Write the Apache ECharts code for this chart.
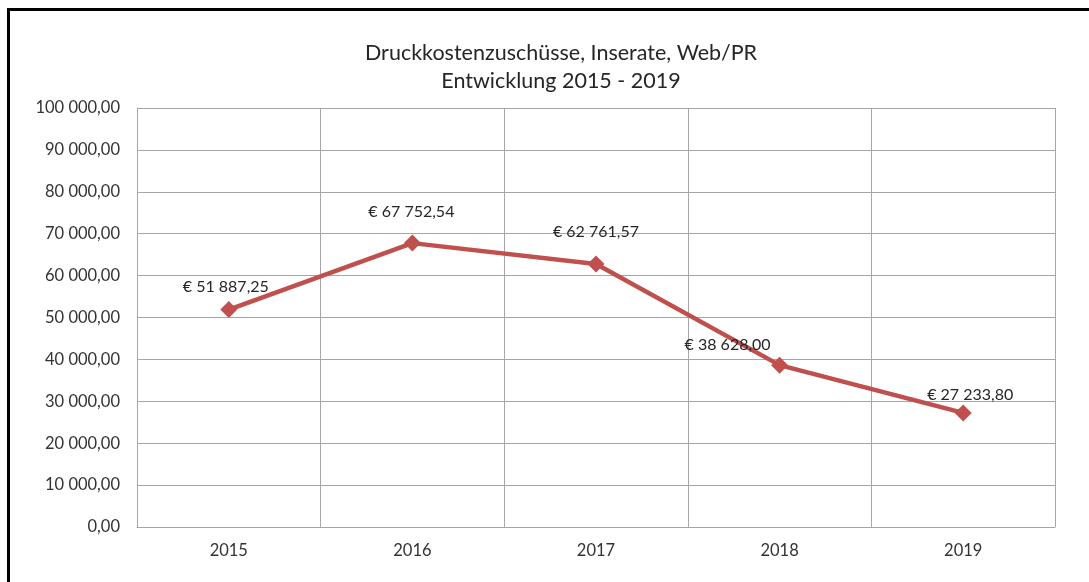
<!DOCTYPE html>
<html>
<head>
<meta charset="utf-8">
<script src="https://cdn.jsdelivr.net/npm/echarts@6/dist/echarts.min.js"></script>
<style>
  html, body { margin: 0; padding: 0; background: #fff; overflow: hidden; }
  #frame { position: absolute; left: 7px; top: 8px; width: 1300px; height: 800px; border: 3px solid #000; }
  #main { position: absolute; left: 0; top: 0; width: 1089px; height: 582px; }
</style>
</head>
<body>
<div id="frame"></div>
<div id="main"></div>
<script>
const years = ['2015', '2016', '2017', '2018', '2019']
const kosten = [51887.25, 67752.54, 62761.57, 38628.00, 27233.80]
// label nudges so they sit where the original put them
const labelOffsets = [[-3, -1], [-1, -10], [0, -11], [-52, 1], [7, 3]]

function fmt(v) {
    let parts = Number(v).toFixed(2).split('.')
    let ganz = parts[0].replace(/\B(?=(\d{3})+(?!\d))/g, ' ')
    return ganz + ',' + parts[1]
}

window.addEventListener('load', function() {
    var myChart = echarts.init(document.getElementById('main'))

    let dataChart = kosten.map((value, index) => {
        return {
            value: value,
            label: { offset: labelOffsets[index] }
        }
    })

    option = {
        animation: false,
        textStyle: { fontFamily: 'Lato' },
        title: {
            text: 'Druckkostenzuschüsse, Inserate, Web/PR\nEntwicklung 2015 - 2019',
            left: 556,
            top: 34,
            textAlign: 'center',
            textStyle: {
                fontFamily: 'Lato',
                fontSize: 21.5,
                fontWeight: 'normal',
                lineHeight: 28,
                color: '#262626'
            }
        },
        grid: { left: 137, top: 108, right: 34, bottom: 55 },
        xAxis: {
            type: 'category',
            data: years,
            boundaryGap: true,
            axisLine: { lineStyle: { color: '#a6a6a6', width: 1 } },
            axisTick: { show: false },
            axisLabel: { color: '#333', fontSize: 16.5, margin: 15, fontFamily: 'Lato' },
            splitLine: { show: true, lineStyle: { color: '#a6a6a6', width: 1 } }
        },
        yAxis: {
            type: 'value',
            min: 0,
            max: 100000,
            interval: 10000,
            axisLine: { show: true, lineStyle: { color: '#a6a6a6', width: 1 } },
            axisTick: { show: false },
            axisLabel: {
                color: '#333',
                fontSize: 16.5,
                margin: 17,
                fontFamily: 'Lato',
                formatter: fmt
            },
            splitLine: { lineStyle: { color: '#a6a6a6', width: 1 } }
        },
        series: [
            {
                type: 'line',
                data: dataChart,
                symbol: 'diamond',
                symbolSize: 17,
                lineStyle: { color: '#c0504d', width: 4.5 },
                itemStyle: { color: '#c0504d' },
                label: {
                    show: true,
                    position: 'top',
                    color: '#262626',
                    fontSize: 16,
                    fontFamily: 'Lato',
                    formatter: p => '€ ' + fmt(p.value)
                }
            }
        ]
    }

    myChart.setOption(option)
})
</script>
</body>
</html>
